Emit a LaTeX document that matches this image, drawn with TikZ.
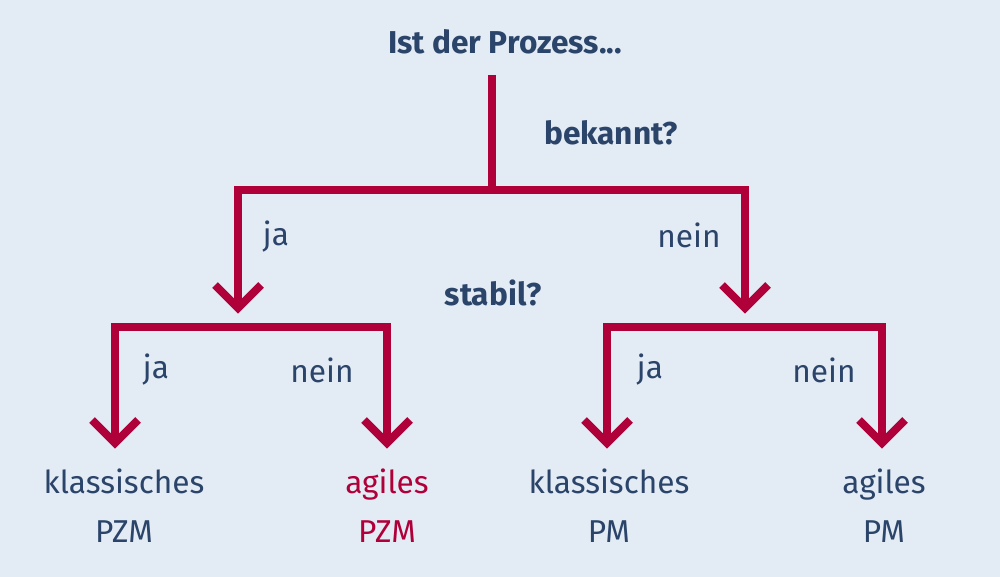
\documentclass[tikz,border=0pt]{standalone}
\usepackage{fontspec}
\setmainfont{Fira Sans}
\definecolor{bg}{HTML}{E3EBF5}
\definecolor{rd}{HTML}{B0003A}
\definecolor{bl}{HTML}{2B4469}
\begin{document}
\begin{tikzpicture}[x=0.02cm,y=-0.02cm,
 lbl/.style={text=bl,font=\fontsize{18}{22}\selectfont,inner sep=0},
 hd/.style={lbl,font=\fontsize{18}{22}\selectfont\bfseries},
 ln/.style={rd,line width=4.5pt},
 chev/.style={rd,line width=4.5pt}]
\fill[bg] (0,0) rectangle (1000,577);
\useasboundingbox (0,0) rectangle (1000,577);
\node[hd] (t) at (505,42) {Ist der Prozess...};
\node[hd] (q1) at (611,133) {bekannt?};
\node[hd] (q2) at (493,293) {stabil?};
\coordinate (s) at (492,75);
\coordinate (j) at (492,190);
\coordinate (L) at (238,190);
\coordinate (R) at (745,190);
\coordinate (La) at (238,308);
\coordinate (Ra) at (745,308);
\draw[ln] (s) -- (j);
\draw[ln,line join=miter] (La) -- (L) -- (R) -- (Ra);
\draw[ln] (115,443) |- (387,327) -- (387,443);
\draw[ln] (607,443) |- (882,327) -- (882,443);
\foreach \x/\y in {238/308,745/308,115/443,387/443,607/443,882/443}
  \draw[chev] (\x-23,\y-23) -- (\x,\y) -- (\x+23,\y-23);
\node[lbl] (a1) at (276,237) {ja};
\node[lbl] (a2) at (689,235) {nein};
\node[lbl] (b1) at (156,370) {ja};
\node[lbl] (b2) at (322,370) {nein};
\node[lbl] (b3) at (650,370) {ja};
\node[lbl] (b4) at (824,370) {nein};
\node[lbl,align=center] (r1) at (124,506) {klassisches\\[6pt]PZM};
\node[lbl,align=center,text=rd] (r2) at (387,506) {agiles\\[6pt]PZM};
\node[lbl,align=center] (r3) at (609,506) {klassisches\\[6pt]PM};
\node[lbl,align=center] (r4) at (884,506) {agiles\\[6pt]PM};
\end{tikzpicture}
\end{document}
